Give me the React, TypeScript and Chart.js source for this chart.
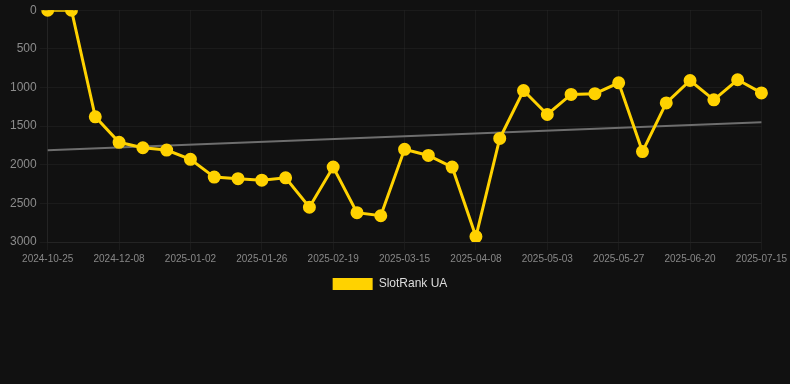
import React, { useEffect, useRef } from "react";
import { Chart, registerables } from "chart.js";

Chart.register(...registerables);

const dates = [
  "2024-10-25", "2024-11-02", "2024-11-23", "2024-12-08", "2024-12-16", "2024-12-24",
  "2025-01-02", "2025-01-10", "2025-01-18", "2025-01-26", "2025-02-03", "2025-02-11",
  "2025-02-19", "2025-02-27", "2025-03-07", "2025-03-15", "2025-03-23", "2025-03-31",
  "2025-04-08", "2025-04-16", "2025-04-25", "2025-05-03", "2025-05-11", "2025-05-19",
  "2025-05-27", "2025-06-04", "2025-06-12", "2025-06-20", "2025-06-28", "2025-07-07",
  "2025-07-15",
];

const rankValues = [
  0, 0, 1380, 1710, 1780, 1810, 1930, 2160, 2180, 2200, 2170, 2550, 2030, 2620, 2660,
  1800, 1880, 2030, 2930, 1660, 1040, 1350, 1090, 1080, 940, 1830, 1200, 910, 1160, 900, 1070,
];

const trendStart = 1813;
const trendEnd = 1451;
const trendValues: (number | null)[] = dates.map((_, i) =>
  i === 0 ? trendStart : i === dates.length - 1 ? trendEnd : null
);

const yTicks = [0, 500, 1000, 1500, 2000, 2500, 3000];
const seriesName = "SlotRank UA";

const YELLOW = "#FFD200";
const GRID = "rgba(255,255,255,0.045)";

export default function App() {
  const canvasRef = useRef<HTMLCanvasElement | null>(null);

  useEffect(() => {
    document.body.style.margin = "0";
    document.body.style.background = "#111111";
    const ctx = canvasRef.current;
    if (!ctx) return;
    const chart = new Chart(ctx, {
      type: "line",
      data: {
        labels: dates,
        datasets: [
          {
            label: seriesName,
            data: rankValues,
            borderColor: YELLOW,
            backgroundColor: YELLOW,
            borderWidth: 3,
            pointRadius: 5,
            pointBackgroundColor: YELLOW,
            pointBorderColor: YELLOW,
            tension: 0,
          },
          {
            label: "trend",
            data: trendValues,
            borderColor: "#6e6e6e",
            backgroundColor: "#6e6e6e",
            borderWidth: 2,
            pointRadius: 0,
            spanGaps: true,
          },
        ],
      },
      options: {
        animation: false,
        responsive: true,
        maintainAspectRatio: false,
        layout: { padding: { left: 7, right: 17, top: 0, bottom: 0 } },
        plugins: {
          legend: {
            position: "bottom",
            labels: {
              color: "#dddddd",
              font: { size: 12 },
              boxWidth: 40,
              boxHeight: 12,
              generateLabels: () => [
                {
                  text: seriesName,
                  fillStyle: YELLOW,
                  strokeStyle: YELLOW,
                  lineWidth: 0,
                  fontColor: "#dddddd",
                  hidden: false,
                  datasetIndex: 0,
                },
              ],
            },
          },
          tooltip: { enabled: false },
        },
        scales: {
          x: {
            ticks: {
              color: "#888888",
              font: { size: 10 },
              autoSkip: false,
              maxRotation: 0,
              callback: function (_v, i) {
                return i % 3 === 0 ? dates[i] : "";
              },
            },
            grid: {
              color: (c) => (c.index % 3 === 0 ? GRID : "transparent"),
            },
            border: { color: GRID },
          },
          y: {
            reverse: true,
            min: 0,
            max: 3000,
            afterBuildTicks: (axis) => {
              axis.ticks = yTicks.map((v) => ({ value: v }));
            },
            ticks: {
              color: "#8c8c8c",
              font: { size: 12 },
              callback: (v) => String(v),
            },
            grid: { color: GRID },
            border: { color: GRID },
          },
        },
      },
    });
    return () => chart.destroy();
  }, []);

  return (
    <div style={{ width: 790, height: 300, position: "relative", background: "#111111" }}>
      <canvas ref={canvasRef} />
    </div>
  );
}
